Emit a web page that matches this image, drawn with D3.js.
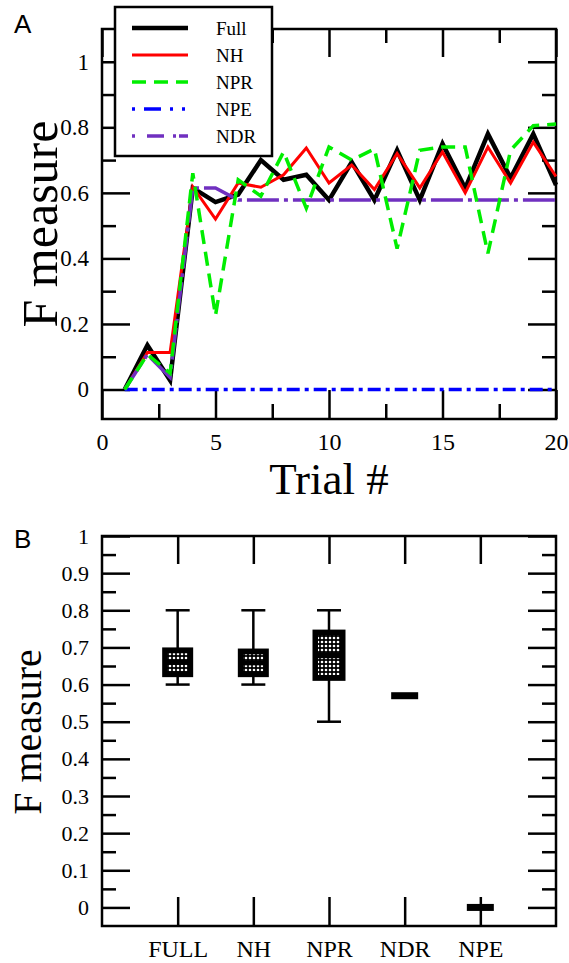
<!DOCTYPE html>
<html>
<head>
<meta charset="utf-8">
<script src="https://cdn.jsdelivr.net/npm/d3@7/dist/d3.min.js"></script>
<style>
  body { margin: 0; background: #fff; }
  text { font-family: "Liberation Serif", "Times New Roman", serif; fill: #000; }
</style>
</head>
<body>
<svg id="chart" width="569" height="963"></svg>
<script>
// ---- panel A data (F measure per trial) ----
const trials = [1, 2, 3, 4, 5, 6, 7, 8, 9, 10, 11, 12, 13, 14, 15, 16, 17, 18, 19, 20];
const fullVals = [0, 0.135, 0.028, 0.615, 0.572, 0.595, 0.70, 0.64, 0.655, 0.578, 0.694, 0.578, 0.73, 0.578, 0.75, 0.614, 0.78, 0.645, 0.78, 0.624];
const nhVals   = [0, 0.113, 0.113, 0.618, 0.52, 0.63, 0.617, 0.655, 0.737, 0.63, 0.685, 0.61, 0.72, 0.615, 0.725, 0.60, 0.74, 0.63, 0.755, 0.65];
const nprVals  = [0, 0.107, 0.05, 0.66, 0.226, 0.64, 0.59, 0.725, 0.553, 0.74, 0.70, 0.734, 0.43, 0.73, 0.74, 0.74, 0.415, 0.73, 0.805, 0.81];
const npeVals  = [0, 0, 0, 0, 0, 0, 0, 0, 0, 0, 0, 0, 0, 0, 0, 0, 0, 0, 0, 0];
const ndrVals  = [0, 0.107, 0.037, 0.615, 0.615, 0.578, 0.578, 0.578, 0.578, 0.578, 0.578, 0.578, 0.578, 0.578, 0.578, 0.578, 0.578, 0.578, 0.578, 0.578];
const seriesNames = ["Full", "NH", "NPR", "NPE", "NDR"];

const xTicksA = [0, 5, 10, 15, 20];
const xMinorA = [2.5, 7.5, 12.5, 17.5];
const yTicksA = [0, 0.2, 0.4, 0.6, 0.8, 1];
const yMinorA = [0.1, 0.3, 0.5, 0.7, 0.9];

// ---- panel B data (box plot summary) ----
const boxCats = ["FULL", "NH", "NPR", "NDR", "NPE"];
const boxMin  = [0.6, 0.6, 0.5, 0.57, 0];
const boxQ1   = [0.62, 0.62, 0.61, 0.57, 0];
const boxQ3   = [0.70, 0.697, 0.748, 0.57, 0];
const boxMax  = [0.8, 0.8, 0.8, 0.57, 0];
const yTicksB = [0, 0.1, 0.2, 0.3, 0.4, 0.5, 0.6, 0.7, 0.8, 0.9, 1];
const yMinorB = [0.05, 0.15, 0.25, 0.35, 0.45, 0.55, 0.65, 0.75, 0.85, 0.95];

const svg = d3.select("#chart");
const fmt = d => String(+d.toFixed(2));

// styles for each series
const styles = {
  Full: { color: "#000000", width: 4.5, dash: null },
  NH:   { color: "#ff0000", width: 3,   dash: null },
  NPR:  { color: "#00ee00", width: 3.5, dash: "14,8" },
  NPE:  { color: "#0000ff", width: 3.5, dash: "13,5,4,5" },
  NDR:  { color: "#7030c0", width: 3.5, dash: "32,5,4,5" }
};

const left = 102, right = 556;

// frame with inward ticks on all four sides, labels left and bottom
function tickAxes(g, x, y, xT, xM, yT, yM, top, bottom, xLabels, ySize, xSize) {
  const ax = g.append("g");
  const yl = ax.append("g").attr("transform", `translate(${left},0)`)
    .call(d3.axisLeft(y).tickValues(yT).tickSize(-28).tickPadding(13).tickFormat(fmt));
  yl.selectAll("text").attr("font-size", ySize);
  ax.append("g").attr("transform", `translate(${left},0)`)
    .call(d3.axisLeft(y).tickValues(yM).tickSize(-14).tickFormat(""));
  ax.append("g").attr("transform", `translate(${right},0)`)
    .call(d3.axisRight(y).tickValues(yT).tickSize(-28).tickFormat(""));
  ax.append("g").attr("transform", `translate(${right},0)`)
    .call(d3.axisRight(y).tickValues(yM).tickSize(-14).tickFormat(""));
  const xl = ax.append("g").attr("transform", `translate(0,${bottom})`)
    .call(d3.axisBottom(x).tickValues(xT).tickSize(-29).tickPadding(14).tickFormat(xLabels));
  xl.selectAll("text").attr("font-size", xSize);
  if (xM.length) {
    ax.append("g").attr("transform", `translate(0,${bottom})`)
      .call(d3.axisBottom(x).tickValues(xM).tickSize(-15).tickFormat(""));
  }
  ax.append("g").attr("transform", `translate(0,${top})`)
    .call(d3.axisTop(x).tickValues(xT).tickSize(-28).tickFormat(""));
  if (xM.length) {
    ax.append("g").attr("transform", `translate(0,${top})`)
      .call(d3.axisTop(x).tickValues(xM).tickSize(-14).tickFormat(""));
  }
  ax.selectAll(".domain").remove();
  ax.selectAll(".tick line").attr("stroke", "#000").attr("stroke-width", 2.5);
  ax.selectAll(".tick text").attr("fill", "#000");
  g.append("rect").attr("x", left).attr("y", top)
    .attr("width", right - left).attr("height", bottom - top)
    .attr("fill", "none").attr("stroke", "#000").attr("stroke-width", 2.5);
}

// ================= panel A =================
const xA = d3.scaleLinear().domain([0, 20]).range([left, right]);
const yA = d3.scaleLinear().domain([-0.09, 1.1]).range([419, 29]);
const gA = svg.append("g");

tickAxes(gA, xA, yA, xTicksA, xMinorA, yTicksA, yMinorA, 29, 419, fmt, 23, 24);

const seriesVals = { Full: fullVals, NH: nhVals, NPR: nprVals, NPE: npeVals, NDR: ndrVals };
const drawOrder = ["Full", "NH", "NPE", "NDR", "NPR"];
const line = d3.line().x((d, i) => xA(trials[i])).y(d => yA(d));

drawOrder.forEach(name => {
  const s = styles[name];
  gA.append("path")
    .attr("d", line(seriesVals[name]))
    .attr("fill", "none")
    .attr("stroke", s.color)
    .attr("stroke-width", s.width)
    .attr("stroke-dasharray", s.dash);
});

// legend
const leg = gA.append("g");
leg.append("rect").attr("x", 115).attr("y", 7).attr("width", 157).attr("height", 149)
  .attr("fill", "#fff").attr("stroke", "#000").attr("stroke-width", 2.5);
seriesNames.forEach((name, i) => {
  const s = styles[name];
  const yy = 28 + i * 27;
  leg.append("line").attr("x1", 132).attr("x2", 188).attr("y1", yy).attr("y2", yy)
    .attr("stroke", s.color).attr("stroke-width", s.width)
    .attr("stroke-dasharray", name === "NPE" ? "3,9,17,9,3,9" : name === "NDR" ? "3,12,17,9,3" : s.dash);
  leg.append("text").attr("x", 216).attr("y", yy + 7).attr("font-size", 19).text(name);
});

gA.append("text").attr("x", (left + right) / 2).attr("y", 494)
  .attr("text-anchor", "middle").attr("font-size", 45).text("Trial #");
gA.append("text").attr("transform", `translate(57,224) rotate(-90)`)
  .attr("text-anchor", "middle").attr("font-size", 50).text("F measure");
svg.append("text").attr("x", 14).attr("y", 33).attr("font-size", 26)
  .style("font-family", "Liberation Sans, Arial, sans-serif").text("A");

// ================= panel B =================
const xB = d3.scaleLinear().domain([0, 6]).range([left, right]);
const yB = d3.scaleLinear().domain([-0.05, 1]).range([926, 536]);
const catPos = boxCats.map((c, i) => i + 1);

const gB = svg.append("g");
tickAxes(gB, xB, yB, catPos, [], yTicksB, yMinorB, 536, 926, (d, i) => boxCats[i], 22, 24);

const defs = svg.append("defs");
defs.append("pattern").attr("id", "dots").attr("width", 4).attr("height", 4)
  .attr("patternUnits", "userSpaceOnUse")
  .append("circle").attr("cx", 2).attr("cy", 2).attr("r", 1.3).attr("fill", "#fff");

boxCats.forEach((c, i) => {
  const cx = xB(catPos[i]);
  const g = gB.append("g");
  const flat = boxQ3[i] - boxQ1[i] < 0.01;
  if (flat) {
    g.append("rect").attr("x", cx - 13.5).attr("y", yB(boxQ3[i]) - 3.5)
      .attr("width", 27).attr("height", 7).attr("fill", "#000");
    return;
  }
  g.append("line").attr("x1", cx).attr("x2", cx).attr("y1", yB(boxMax[i])).attr("y2", yB(boxMin[i]))
    .attr("stroke", "#000").attr("stroke-width", 2.5);
  [boxMax[i], boxMin[i]].forEach(v => {
    g.append("line").attr("x1", cx - 12).attr("x2", cx + 12).attr("y1", yB(v)).attr("y2", yB(v))
      .attr("stroke", "#000").attr("stroke-width", 2.5);
  });
  const top = yB(boxQ3[i]), bot = yB(boxQ1[i]), h = bot - top;
  const bw = c === "NPR" ? 33 : 31;
  g.append("rect").attr("x", cx - bw / 2).attr("y", top).attr("width", bw).attr("height", h)
    .attr("fill", "#000");
  const ph = Math.max(5, (h - 16) / 2.1), pw = c === "NPR" ? 22 : 20, gap = c === "NPR" ? 6 : 5;
  const off = (h - 2 * ph - gap) / 2;
  [0, 1].forEach(k => {
    g.append("rect").attr("x", cx - pw / 2).attr("y", top + off + k * (ph + gap))
      .attr("width", pw).attr("height", ph).attr("fill", "url(#dots)");
  });
});

gB.append("text").attr("transform", `translate(41,732) rotate(-90)`)
  .attr("text-anchor", "middle").attr("font-size", 40).text("F measure");
svg.append("text").attr("x", 14).attr("y", 548).attr("font-size", 26)
  .style("font-family", "Liberation Sans, Arial, sans-serif").text("B");
</script>
</body>
</html>
